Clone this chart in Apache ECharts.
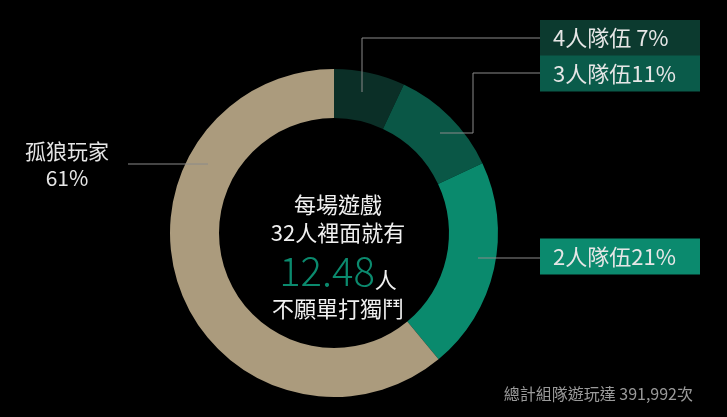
<!DOCTYPE html>
<html><head><meta charset="utf-8">
<script src="https://cdn.jsdelivr.net/npm/echarts@6/dist/echarts.min.js"></script>
<style>html,body{margin:0;padding:0;background:#000}#c{width:727px;height:417px}</style>
</head><body><div id="c"></div>
<script>
const categories = ['4人隊伍', '3人隊伍', '2人隊伍', '孤狼玩家'];
const values = [7, 11, 21, 61];
const centerLines = ['每場遊戲', '32人裡面就有', '12.48', '人', '不願單打獨鬥'];
const footerText = '總計組隊遊玩達 391,992次';

const sliceColors = ['#0b2f27', '#0a5746', '#0a8a6d', '#ab9b7d'];
const boxColors = ['#0c3a2f', '#0a5b4a', '#0b8a6e', null];
const FONT = '"Noto Sans CJK TC", "Noto Sans", sans-serif';

// label placements (annotation layout, not marks)
const labelPlacement = [
  { x: 540, y: 38, pts: [[362, 92], [362, 38], [540, 38]] },
  { x: 540, y: 73.5, pts: [[440, 133], [473, 133], [473, 73], [540, 73]] },
  { x: 540, y: 256.5, pts: [[478, 258], [540, 258]] },
  { x: 67, y: 165, pts: [[208, 164], [128, 164]] }
];

const chart = echarts.init(document.getElementById('c'), null, { renderer: 'canvas' });

const sliceData = categories.map((name, i) => ({
  name: name, value: values[i], itemStyle: { color: sliceColors[i] }
}));

const labelData = categories.map((name, i) => {
  const isBox = boxColors[i] !== null;
  return {
    name: name,
    value: values[i],
    itemStyle: { color: 'rgba(0,0,0,0)' },
    label: isBox ? {
      formatter: '{b}' + (values[i] < 10 ? ' ' : '') + '{c}%',
      backgroundColor: boxColors[i],
      width: 147, height: 36, lineHeight: 36,
      padding: [0, 0, 0, 13],
      fontSize: 22, color: '#e6e6e6', align: 'left'
    } : {
      formatter: '{b}\n{c}%',
      fontSize: 21, lineHeight: 27, color: '#e6e6e6', align: 'center'
    }
  };
});

const common = {
  type: 'pie',
  center: [334, 233],
  radius: [115, 164],
  startAngle: 90,
  clockwise: true,
  silent: true
};

chart.setOption({
  backgroundColor: '#000',
  animation: false,
  textStyle: { fontFamily: FONT },
  title: {
    text: '{a|' + centerLines[0] + '}\n{a|' + centerLines[1] + '}\n{b|' + centerLines[2] + '}{c|' + centerLines[3] + '}\n{a|' + centerLines[4] + '}',
    left: 333, top: 186,
    textAlign: 'center',
    textStyle: {
      fontFamily: FONT, fontWeight: 'normal',
      rich: {
        a: { fontSize: 22, lineHeight: 28, color: '#f0f0f0', fontFamily: FONT, fontWeight: 'normal', align: 'center' },
        b: { fontSize: 40, lineHeight: 48, color: '#0b8a6e', fontFamily: FONT, fontWeight: 300 },
        c: { fontSize: 22, lineHeight: 48, color: '#f0f0f0', fontFamily: FONT, fontWeight: 'normal', verticalAlign: 'bottom', padding: [0, 0, 4, 0] }
      }
    }
  },
  graphic: [{
    type: 'text',
    right: 34, top: 386,
    style: { text: footerText, fill: '#9a9a9a', fontSize: 16, fontFamily: FONT }
  }],
  series: [
    Object.assign({}, common, {
      z: 2,
      label: { show: false },
      labelLine: { show: false },
      data: sliceData
    }),
    Object.assign({}, common, {
      z: 5,
      label: { show: true, position: 'outside', fontFamily: FONT },
      labelLine: { show: true, lineStyle: { color: '#8a8a8a', width: 1 } },
      labelLayout: function (params) {
        const p = labelPlacement[params.dataIndex];
        const isBox = boxColors[params.dataIndex] !== null;
        return {
          x: p.x, y: p.y,
          align: isBox ? 'left' : 'center',
          verticalAlign: 'middle',
          labelLinePoints: p.pts
        };
      },
      data: labelData
    })
  ]
});
</script>
</body></html>
